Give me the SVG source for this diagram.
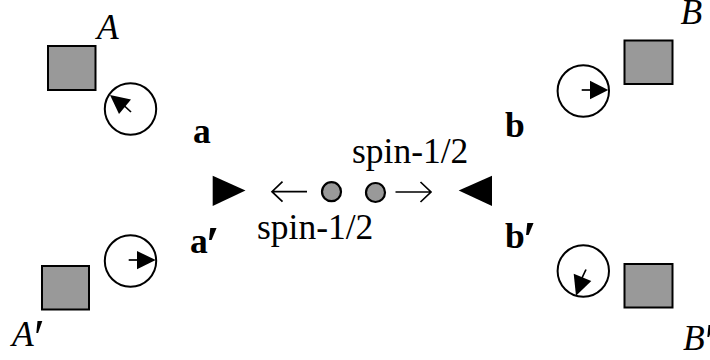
<svg xmlns="http://www.w3.org/2000/svg" width="710" height="360" viewBox="0 0 710 360">
<style>
text{font-family:"Liberation Serif","Times New Roman",serif;font-size:35.5px;fill:#000}
.i{font-style:italic}
.b{font-weight:bold}
.p{font-size:50px}
.sq{fill:#999;stroke:#000;stroke-width:2}
.c{fill:#fff;stroke:#000;stroke-width:2}
.ball{fill:#999;stroke:#000;stroke-width:2.2}
.l{fill:none;stroke:#000;stroke-width:1.7}
.t{fill:#000}
</style>
<rect width="710" height="360" fill="#fff"/>
<g id="source">
<circle class="ball" cx="331.5" cy="191.7" r="9.5"/>
<circle class="ball" cx="375.5" cy="192.5" r="9.5"/>
<text x="352" y="163">spin-1/2</text>
<text x="257" y="239">spin-1/2</text>
</g>
<g id="connectors">
<path class="l" d="M307 191.7H272M282.5 181.7L272 191.7L282.5 201.7"/>
<path class="l" d="M395.5 192H431M420.5 182L431 192L420.5 202"/>
</g>
<g id="node-a"><polygon class="t" points="212.7,175.7 245.5,190.5 212.7,206"/><text class="b" x="193" y="143">a</text></g>
<g id="node-a-prime"><text class="b" x="190" y="252.7">a<tspan class="p" dx="-2" dy="8">′</tspan></text></g>
<g id="node-b"><polygon class="t" points="492,175.7 458.7,190.5 492,206"/><text class="b" x="505" y="137">b</text></g>
<g id="node-b-prime"><text class="b" x="505" y="247.7">b<tspan class="p" dx="-2" dy="8">′</tspan></text></g>
<g id="node-A">
<rect class="sq" x="48" y="46" width="47.5" height="44"/>
<circle class="c" cx="130.5" cy="109" r="25.7"/>
<path class="l" d="M131 112L118 100"/>
<polygon class="t" points="110,95 131,99.5 119,114"/>
<text class="i" x="97" y="39">A</text>
</g>
<g id="node-A-prime">
<rect class="sq" x="42" y="266" width="47" height="43.5"/>
<circle class="c" cx="130.5" cy="261" r="25.7"/>
<path class="l" d="M128.7 260H140"/>
<polygon class="t" points="137,251 155.7,260 137,269.3"/>
<text class="i" x="12" y="346">A<tspan class="p" dx="-3" dy="8">′</tspan></text>
</g>
<g id="node-B">
<rect class="sq" x="624.5" y="40.5" width="48" height="43.5"/>
<circle class="c" cx="583.3" cy="91" r="25.7"/>
<path class="l" d="M581.7 90H595"/>
<polygon class="t" points="590,80.7 608.3,90 590,99.3"/>
<text class="i" x="680.5" y="24">B</text>
</g>
<g id="node-B-prime">
<rect class="sq" x="624.5" y="264" width="48" height="43.5"/>
<circle class="c" cx="583.3" cy="271" r="25.7"/>
<path class="l" d="M586 269.5L581 280"/>
<polygon class="t" points="576,295.7 573.7,273.7 591.3,281"/>
<text class="i" x="683" y="350">B<tspan class="p" dx="-3" dy="8">′</tspan></text>
</g>
</svg>
